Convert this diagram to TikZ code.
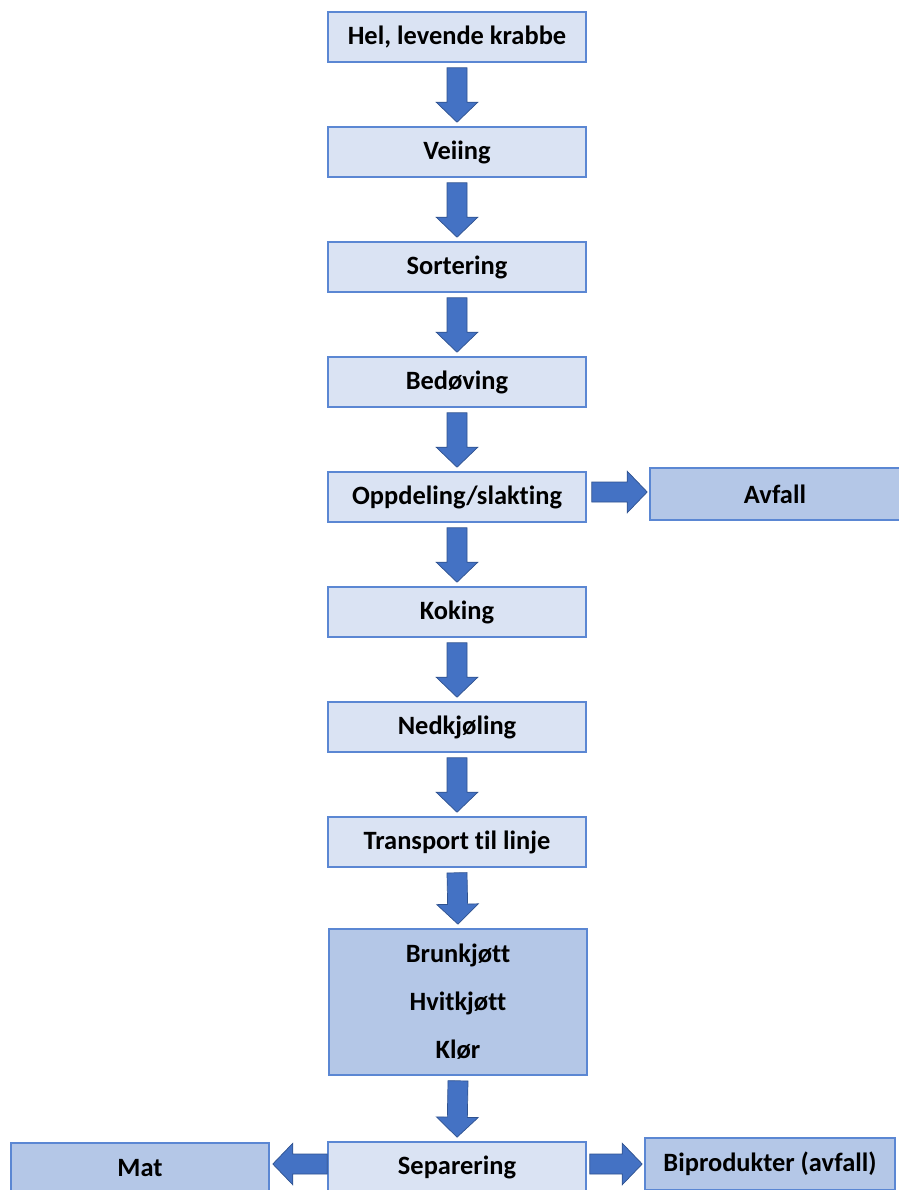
\documentclass[tikz,border=0pt]{standalone}
\usepackage{fontspec}
\setmainfont[Ligatures=NoCommon]{Carlito}
\definecolor{boxlight}{HTML}{DAE3F3}
\definecolor{boxdark}{HTML}{B4C7E7}
\definecolor{boxline}{HTML}{5B87D3}
\definecolor{arrowfill}{HTML}{4472C4}
\definecolor{arrowline}{HTML}{2F528F}
\usetikzlibrary{calc}
\tikzset{
	stepnode/.style={
			rectangle,
			draw=boxline,
			fill=boxlight,
			line width=1.1pt,
			minimum width=6.45cm,
			minimum height=1.25cm,
			inner sep=0pt,
			font=\bfseries\fontsize{18.8}{22.5}\selectfont
		},
	outnode/.style={
			stepnode,
			fill=boxdark
		},
	blockarrow/.style={
			draw=arrowline,
			fill=arrowfill,
			line width=0.5pt,
			to path={
					($(\tikztostart)!0.25cm!90:(\tikztotarget)$)
					-- ($(\tikztotarget)!0.5cm!(\tikztostart)!0.25cm!-90:(\tikztostart)$)
					-- ($(\tikztotarget)!0.5cm!(\tikztostart)!0.52cm!-90:(\tikztostart)$)
					-- (\tikztotarget)
					-- ($(\tikztotarget)!0.5cm!(\tikztostart)!0.52cm!90:(\tikztostart)$)
					-- ($(\tikztotarget)!0.5cm!(\tikztostart)!0.25cm!90:(\tikztostart)$)
					-- ($(\tikztostart)!0.25cm!-90:(\tikztotarget)$)
					-- cycle
				}
		}
}

\begin{document}
\begin{tikzpicture}[x=0.025cm, y=-0.025cm]
\useasboundingbox (0,0) rectangle (899,1190);

\node[stepnode] (krabbe) at (457,37) {Hel, levende krabbe};
\node[stepnode] (veiing) at (457,152) {Veiing};
\node[stepnode] (sort) at (457,267) {Sortering};
\node[stepnode] (bedov) at (457,382) {Bedøving};
\node[stepnode] (oppdel) at (457,497) {Oppdeling/slakting};
\node[outnode, minimum width=6.25cm, minimum height=1.3cm] (avfall) at (775,494) {Avfall};
\node[stepnode] (koking) at (457,612) {Koking};
\node[stepnode] (nedkj) at (457,727) {Nedkjøling};
\node[stepnode] (transp) at (457,842) {Transport til linje};
\node[outnode, minimum height=3.65cm, align=center,
      font=\bfseries\fontsize{18.8}{34}\selectfont] (deler) at (458,1002) {Brunkjøtt\\Hvitkjøtt\\Klør};
\node[stepnode] (separ) at (457,1167) {Separering};
\node[outnode] (mat) at (140,1168) {Mat};
\node[outnode, minimum width=6.25cm, minimum height=1.3cm] (biprod) at (770,1164) {Biprodukter (avfall)};

\draw[blockarrow] ($(krabbe.south)+(0,5)$) to ($(veiing.north)+(0,-4)$);
\draw[blockarrow] ($(veiing.south)+(0,5)$) to ($(sort.north)+(0,-4)$);
\draw[blockarrow] ($(sort.south)+(0,5)$) to ($(bedov.north)+(0,-4)$);
\draw[blockarrow] ($(bedov.south)+(0,5)$) to ($(oppdel.north)+(0,-4)$);
\draw[blockarrow] ($(oppdel.east)+(5,-5)$) to ($(avfall.west)+(-2,-2)$);
\draw[blockarrow] ($(oppdel.south)+(0,5)$) to ($(koking.north)+(0,-4)$);
\draw[blockarrow] ($(koking.south)+(0,5)$) to ($(nedkj.north)+(0,-4)$);
\draw[blockarrow] ($(nedkj.south)+(0,5)$) to ($(transp.north)+(0,-4)$);
\draw[blockarrow] ($(transp.south)+(0,5)$) to ($(deler.north)+(0,-4)$);
\draw[blockarrow] ($(deler.south)+(0,5)$) to ($(separ.north)+(0,-4)$);
\draw[blockarrow] ($(separ.west)+(0,-3)$) to ($(mat.east)+(3,-4)$);
\draw[blockarrow] ($(separ.east)+(3,-3)$) to ($(biprod.west)+(-2,0)$);

\end{tikzpicture}
\end{document}
